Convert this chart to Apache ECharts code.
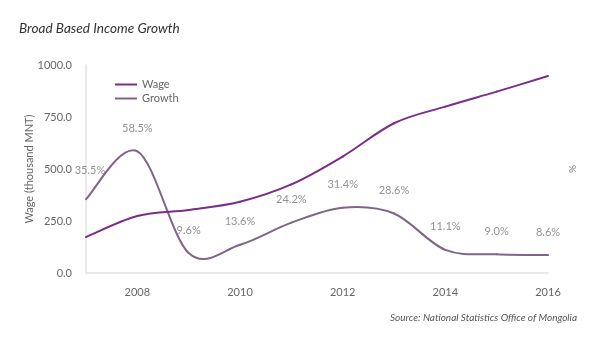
<!DOCTYPE html>
<html>
<head>
<meta charset="utf-8">
<script src="https://cdn.jsdelivr.net/npm/echarts@6/dist/echarts.min.js"></script>
<style>html,body{margin:0;padding:0;background:#fff;}#c{width:600px;height:337px;}</style>
</head>
<body>
<div id="c"></div>
<script>
const years = ['2007','2008','2009','2010','2011','2012','2013','2014','2015','2016'];
const wage = [173, 274, 303, 343, 426, 560, 720, 800, 872, 947];
const growth = [35.5, 58.5, 9.6, 13.6, 24.2, 31.4, 28.6, 11.1, 9.0, 8.6];
const wageTicks = [0, 250, 500, 750, 1000];

const FONT = 'Lato, "Open Sans", sans-serif';
const WAGE_COLOR = '#7b2d8c';
const GROWTH_COLOR = '#7e6689';

// Catmull-Rom spline segment drawn through the axis scales (api.coord)
function splineRenderer(values, color) {
  return function (params, api) {
    const i = params.dataIndex;
    const n = values.length;
    if (i >= n - 1) return null;
    const pt = k => {
      const kk = Math.max(0, Math.min(n - 1, k));
      return api.coord([kk, values[kk]]);
    };
    const p0 = pt(i - 1), p1 = pt(i), p2 = pt(i + 1), p3 = pt(i + 2);
    return {
      type: 'bezierCurve',
      shape: {
        x1: p1[0], y1: p1[1], x2: p2[0], y2: p2[1],
        cpx1: p1[0] + (p2[0] - p0[0]) / 6, cpy1: p1[1] + (p2[1] - p0[1]) / 6,
        cpx2: p2[0] - (p3[0] - p1[0]) / 6, cpy2: p2[1] - (p3[1] - p1[1]) / 6
      },
      style: {stroke: color, lineWidth: 2, fill: null, lineCap: 'round'},
      silent: true
    };
  };
}

const chart = echarts.init(document.getElementById('c'), null, {renderer: 'canvas'});
chart.setOption({
  animation: false,
  textStyle: {fontFamily: FONT},
  title: [{
    text: 'Broad Based Income Growth',
    left: 14, top: 17,
    textStyle: {fontFamily: FONT, fontStyle: 'italic', fontWeight: 'normal', fontSize: 13.6, color: '#333'}
  }, {
    text: 'Source: National Statistics Office of Mongolia',
    right: 18, top: 308,
    textStyle: {fontFamily: FONT, fontStyle: 'italic', fontWeight: 'normal', fontSize: 10, color: '#555'}
  }],
  legend: {
    orient: 'vertical',
    left: 110, top: 74,
    itemWidth: 22, itemHeight: 10, itemGap: 3,
    icon: 'path://M0,4 L22,4 L22,6 L0,6 Z',
    textStyle: {fontFamily: FONT, fontSize: 11, color: '#666'},
    data: [
      {name: 'Wage', itemStyle: {color: WAGE_COLOR}},
      {name: 'Growth', itemStyle: {color: GROWTH_COLOR}}
    ]
  },
  grid: {left: 86, right: 52, top: 65, bottom: 64},
  xAxis: {
    type: 'category',
    data: years,
    boundaryGap: false,
    axisLine: {lineStyle: {color: '#e2e2e2', width: 1.5}},
    axisTick: {show: false},
    axisLabel: {
      interval: (i, v) => Number(v) % 2 === 0,
      color: '#666', fontSize: 11, margin: 14, fontFamily: FONT
    },
    splitLine: {show: false}
  },
  yAxis: [{
    type: 'value',
    min: wageTicks[0], max: wageTicks[wageTicks.length - 1], interval: 250,
    name: 'Wage (thousand MNT)',
    nameLocation: 'middle', nameGap: 51,
    nameMoveOverlap: false,
    nameTextStyle: {color: '#666', fontSize: 11, fontFamily: FONT},
    axisLine: {show: true, lineStyle: {color: '#e2e2e2', width: 1.5}},
    axisTick: {show: false},
    axisLabel: {formatter: v => v.toFixed(1), color: '#666', fontSize: 11, margin: 14, fontFamily: FONT},
    splitLine: {show: false}
  }, {
    type: 'value',
    min: 0, max: 100,
    position: 'right',
    name: '%',
    nameLocation: 'middle', nameGap: 20,
    nameMoveOverlap: false,
    nameTextStyle: {color: '#777', fontSize: 10, fontFamily: FONT},
    axisLine: {show: false},
    axisTick: {show: false},
    axisLabel: {show: false},
    splitLine: {show: false}
  }],
  series: [{
    name: 'Wage',
    type: 'custom',
    yAxisIndex: 0,
    data: wage.map((v, i) => [i, v]),
    encode: {x: 0, y: 1},
    itemStyle: {color: WAGE_COLOR},
    renderItem: splineRenderer(wage, WAGE_COLOR),
    z: 3
  }, {
    name: 'Growth',
    type: 'custom',
    yAxisIndex: 1,
    data: growth.map((v, i) => [i, v]),
    encode: {x: 0, y: 1},
    itemStyle: {color: GROWTH_COLOR},
    renderItem: splineRenderer(growth, GROWTH_COLOR),
    z: 2
  }, {
    name: 'Growth labels',
    type: 'scatter',
    yAxisIndex: 1,
    data: growth,
    symbolSize: 1,
    itemStyle: {color: 'rgba(0,0,0,0)'},
    silent: true,
    labelLayout: p => (p.dataIndex === 0 ? {dx: 4, dy: -6} : {}),
    label: {
      show: true, position: 'top', distance: 17,
      formatter: p => p.value.toFixed(1) + '%',
      color: '#777', fontSize: 11, fontFamily: FONT
    }
  }]
});
</script>
</body>
</html>
